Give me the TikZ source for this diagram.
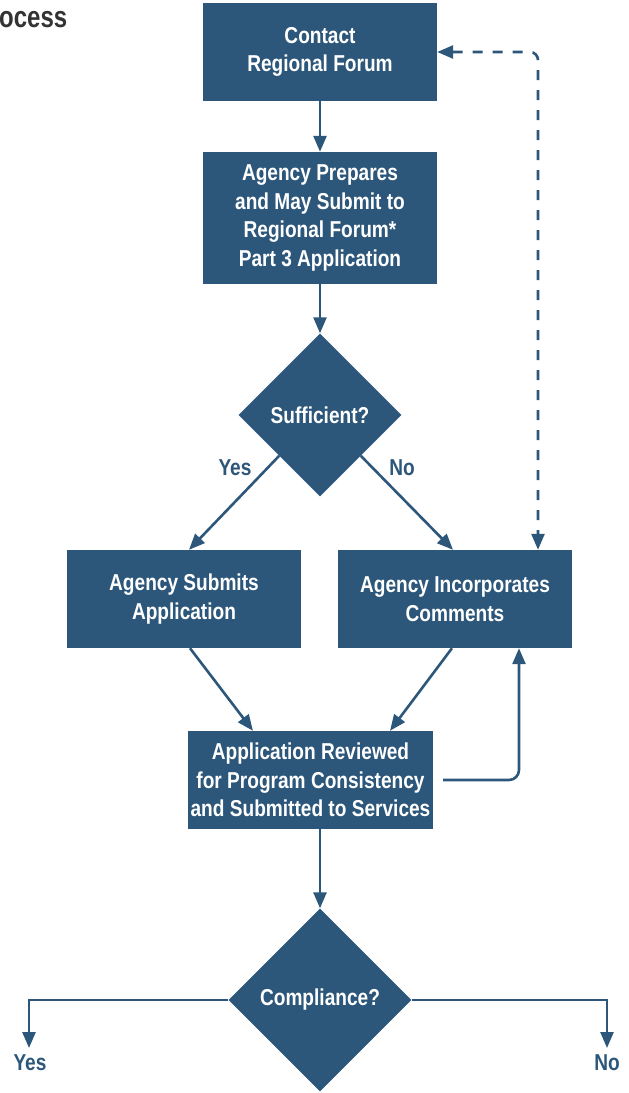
\documentclass[tikz,border=0pt]{standalone}
\usepackage{fontspec}
\setmainfont{Liberation Sans}[FakeStretch=0.83]
\newfontfamily\headfont{Liberation Sans}[FakeStretch=0.8]
\usetikzlibrary{shapes.geometric,arrows.meta,calc}
\definecolor{boxblue}{RGB}{44,87,122}
\definecolor{headgray}{RGB}{51,51,51}
\begin{document}
\begin{tikzpicture}[x=1pt,y=-1pt,
  boxtext/.style={font=\bfseries\fontsize{23}{28.5}\selectfont, text=white, align=center},
  stepbox/.style={boxtext, rectangle, fill=boxblue, inner sep=0pt, minimum width=234pt, minimum height=98pt},
  decision/.style={boxtext, diamond, fill=boxblue, inner sep=0pt, aspect=1},
  conn/.style={draw=boxblue, line width=2.6pt, -{Triangle[length=16pt,width=13pt]}},
  lbl/.style={font=\bfseries\fontsize{23}{26}\selectfont, text=boxblue}
]
\useasboundingbox (0,0) rectangle (629,1093);

\node[font=\headfont\bfseries\fontsize{30}{32}\selectfont, text=headgray, anchor=base west, inner sep=0pt] (head) at (-1,27) {ocess};

\node[stepbox] (b1) at (320,52) {Contact\\Regional Forum};
\node[stepbox, minimum height=132pt] (b2) at (320,218) {Agency Prepares\\and May Submit to\\Regional Forum*\\Part 3 Application};
\node[decision, minimum width=163pt, minimum height=163pt] (d1) at (320,415) {Sufficient?};
\node[stepbox] (b3) at (184,599) {Agency Submits\\Application};
\node[stepbox] (b4) at (455,599) {Agency Incorporates\\Comments};
\node[stepbox, minimum width=245pt] (b5) at (310.5,780) {Application Reviewed\\for Program Consistency\\and Submitted to Services};
\node[decision, minimum width=183pt, minimum height=183pt] (d2) at (320,1000) {Compliance?};

\node[lbl] (yes1) at (235,468) {Yes};
\node[lbl] (no1) at (402,468) {No};
\node[lbl] (yes2) at (30,1063) {Yes};
\node[lbl] (no2) at (607,1063) {No};

\coordinate (yesend) at (29,1048);
\coordinate (noend) at (607,1048);

\draw[conn] (b1.south) -- (b2.north);
\draw[conn] (b2.south) -- (d1.north);
\draw[conn] ($(d1.west)!0.5!(d1.south)$) -- ($(b3.north)+(5,0)$);
\draw[conn] ($(d1.east)!0.5!(d1.south)$) -- ($(b4.north)+(-2,0)$);
\draw[conn, {Triangle[length=16pt,width=13pt]}-{Triangle[length=16pt,width=13pt]}, dash pattern=on 10pt off 10pt, rounded corners=8pt]
  (b1.east) -| ($(b4.north)+(83,0)$);
\draw[conn] ($(b3.south)+(6,0)$) -- ($(b5.north)+(-57.5,0)$);
\draw[conn] ($(b4.south)+(-3,0)$) -- ($(b5.north)+(79.5,0)$);
\draw[conn, rounded corners=10pt] ($(b5.east)+(10,0)$) -| ($(b4.south)+(64,0)$);
\draw[conn] (d2.north |- b5.south) -- (d2.north);
\draw[conn] (d2.west) -| (yesend);
\draw[conn] (d2.east) -| (noend);
\end{tikzpicture}
\end{document}
